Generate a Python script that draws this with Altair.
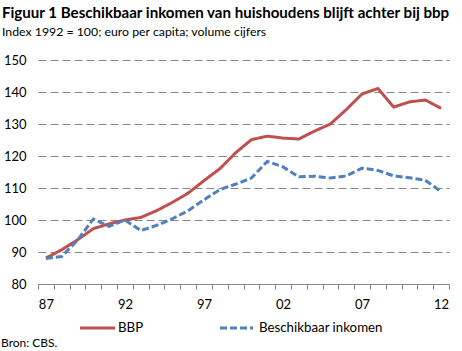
import altair as alt
import pandas as pd

years = list(range(1987, 2013))
bbp = [88.1, 90.7, 93.8, 97.3, 98.8, 100.0, 100.8, 102.9, 105.5, 108.4, 112.3, 116.0, 121.0,
       125.1, 126.2, 125.6, 125.3, 127.8, 130.0, 134.5, 139.4, 141.1, 135.3, 136.9, 137.5, 134.9]
inkomen = [88.0, 88.6, 93.7, 100.3, 98.0, 100.0, 96.7, 98.3, 100.4, 102.9, 106.3, 109.5, 111.2,
           113.1, 118.3, 116.6, 113.5, 113.7, 113.1, 113.8, 116.2, 115.5, 113.8, 113.2, 112.4, 108.9]
series_names = ["BBP", "Beschikbaar inkomen"]
colors = ["#C0504D", "#4F81BD"]

title = "Figuur 1 Beschikbaar inkomen van huishoudens blijft achter bij bbp"
subtitle = "Index 1992 = 100; euro per capita; volume cijfers"
source = "Bron: CBS."

df = pd.DataFrame({
    "jaar": years * 2,
    "waarde": bbp + inkomen,
    "reeks": [series_names[0]] * len(years) + [series_names[1]] * len(years),
})

FONT = "Lato"
W, H = 411, 224

boundaries = [y - 0.5 for y in years] + [years[-1] + 0.5]

x_enc = alt.X(
    "jaar:Q",
    scale=alt.Scale(domain=[years[0] - 0.5, years[-1] + 0.5], nice=False, zero=False),
    axis=alt.Axis(
        values=boundaries, title=None, grid=False, ticks=True, tickSize=5,
        tickColor="#868686", domainColor="#868686", domainWidth=1,
        labelExpr="((datum.value + 0.5 - 1987) % 5 == 0) ? substring(toString(datum.value + 0.5), 2) : ''",
        labelOffset=7.9, labelOverlap=False, labelPadding=9, labelFont=FONT,
        labelFontSize=13, labelColor="#000000", labelFlush=False,
    ),
)
y_enc = alt.Y(
    "waarde:Q",
    scale=alt.Scale(domain=[80, 150], nice=False, zero=False),
    axis=alt.Axis(
        values=list(range(80, 151, 10)), title=None, ticks=False, domain=False,
        grid=True, gridColor="#868686", gridDash=[8, 4], gridWidth=1,
        labelPadding=12, labelFont=FONT, labelFontSize=13, labelColor="#000000",
    ),
)

lines = alt.Chart(df).mark_line(strokeWidth=3).encode(
    x=x_enc,
    y=y_enc,
    color=alt.Color("reeks:N", scale=alt.Scale(domain=series_names, range=colors), legend=None),
    strokeDash=alt.StrokeDash("reeks:N", scale=alt.Scale(domain=series_names, range=[[1, 0], [7, 3]]), legend=None),
)

def txt(s, x, y, size, bold=False, color="#000000"):
    return alt.Chart(pd.DataFrame({"a": [0]})).mark_text(
        text=s, font=FONT, fontSize=size, fontWeight="bold" if bold else "normal",
        align="left", baseline="middle", color=color,
    ).encode(x=alt.value(x), y=alt.value(y))

def seg(x1, x2, y, color, dash):
    return alt.Chart(pd.DataFrame({"a": [0]})).mark_rule(
        color=color, strokeWidth=3, strokeDash=dash,
    ).encode(x=alt.value(x1), x2=alt.value(x2), y=alt.value(y))

OX, OY = 38, 60
layers = [
    lines,
    txt(title, 2 - OX, 13 - OY, 15.1, bold=True),
    txt(subtitle, 2 - OX, 32 - OY, 12.3),
    seg(80 - OX, 115 - OX, 328 - OY, colors[0], [1, 0]),
    txt(series_names[0], 118 - OX, 328 - OY, 13.3),
    seg(220 - OX, 253 - OX, 328 - OY, colors[1], [7, 3]),
    txt(series_names[1], 259 - OX, 328 - OY, 13.3),
    txt(source, 1 - OX, 343 - OY, 12),
]

chart = alt.layer(*layers).properties(
    width=W, height=H,
    autosize=alt.AutoSizeParams(type="none"),
    padding={"left": OX, "top": OY, "right": 462 - OX - W, "bottom": 351 - OY - H},
    background="#FFFFFF",
).configure_view(stroke=None)

chart.save("out.html", embed_options={"renderer": "svg", "actions": False})
